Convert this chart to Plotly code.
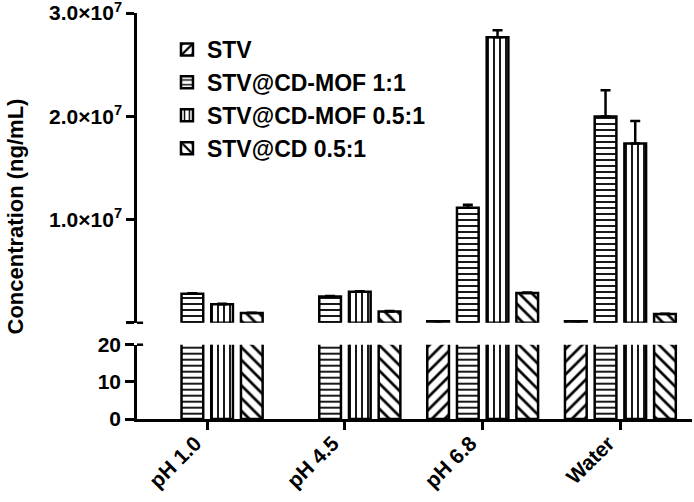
import plotly.graph_objects as go

categories = ["pH 1.0", "pH 4.5", "pH 6.8", "Water"]
series_names = ["STV", "STV@CD-MOF 1:1", "STV@CD-MOF 0.5:1", "STV@CD 0.5:1"]
stv = [None, None, 1.5e5, 1.5e5]
stv_err = [0, 0, 0, 0]
mof_1_1 = [2.8e6, 2.55e6, 1.113e7, 1.997e7]
mof_1_1_err = [5e4, 5e4, 3e5, 2.55e6]
mof_05_1 = [1.8e6, 3.0e6, 2.764e7, 1.735e7]
mof_05_1_err = [5e4, 6e4, 7e5, 2.2e6]
cd_05_1 = [0.94e6, 1.1e6, 2.88e6, 0.84e6]
cd_05_1_err = [3e4, 3e4, 5e4, 3e4]

top_tickvals = [0, 1e7, 2e7, 3e7]
top_ticktext = ["", "1.0×10<sup>7</sup>", "2.0×10<sup>7</sup>", "3.0×10<sup>7</sup>"]
bottom_tickvals = [0, 10, 20]
bottom_ticktext = ["0", "10", "20"]

all_values = [stv, mof_1_1, mof_05_1, cd_05_1]
all_errs = [stv_err, mof_1_1_err, mof_05_1_err, cd_05_1_err]
shapes = ["/", "-", "|", "\\"]
sizes = [9, 6, 6, 9]

FONT = "Arial, Liberation Sans, sans-serif"

fig = go.Figure()
for name, vals, errs, shp, sz in zip(series_names, all_values, all_errs, shapes, sizes):
    marker = dict(
        color="white",
        line=dict(color="black", width=2.5),
        pattern=dict(shape=shp, fgcolor="black", bgcolor="white", size=sz, solidity=0.3),
    )
    # bottom segment
    fig.add_trace(go.Bar(x=categories, y=vals, name=name, marker=marker,
                         xaxis="x", yaxis="y", showlegend=True, hoverinfo="skip"))
    # top segment
    fig.add_trace(go.Bar(x=categories, y=vals, name=name, marker=marker,
                         xaxis="x", yaxis="y2", showlegend=False, hoverinfo="skip",
                         error_y=dict(type="data", array=errs, arrayminus=[0] * len(errs),
                                      symmetric=False, color="black", thickness=2.5, width=5)))

axis_common = dict(showline=True, linecolor="black", linewidth=2.5, ticks="outside",
                   tickwidth=2.5, tickcolor="black", showgrid=False, zeroline=False,
                   automargin=False, ticklabeloverflow="allow",
                   tickfont=dict(family=FONT, size=21, color="black", weight="bold"))

# small caps at the axis break (Prism style)
break_caps = [
    dict(type="line", xref="paper", yref="y2 domain", x0=0, x1=0.011, y0=0, y1=0,
         line=dict(color="black", width=2.5)),
    dict(type="line", xref="paper", yref="y domain", x0=0, x1=0.011, y0=1, y1=1,
         line=dict(color="black", width=2.5)),
]

fig.update_layout(
    template="none",
    width=694, height=502,
    margin=dict(l=137, r=2, t=13, b=83),
    paper_bgcolor="white", plot_bgcolor="white",
    barmode="group", bargap=0.137, bargroupgap=0.27,
    xaxis=dict(range=[-0.51, 3.52], anchor="y", tickangle=-45, ticklen=8,
               ticklabelstandoff=-7, ticklabelshift=-12,
               **axis_common),
    yaxis=dict(domain=[0, 0.183], range=[0, 20], tickvals=bottom_tickvals,
               ticktext=bottom_ticktext, ticklen=9, anchor="x", **axis_common),
    yaxis2=dict(domain=[0.237, 1], range=[0, 3.0e7], tickvals=top_tickvals,
                ticktext=top_ticktext, ticklen=8, anchor="x", **axis_common),
    legend=dict(x=0.054, y=0.963, xanchor="left", yanchor="top",
                font=dict(family=FONT, size=23, color="black", weight="bold"),
                bgcolor="rgba(0,0,0,0)", tracegroupgap=0),
    shapes=break_caps,
    annotations=[dict(text="Concentration (ng/mL)", textangle=-90, xref="paper", yref="paper",
                      x=-0.219, y=0.5, xanchor="center", yanchor="middle", showarrow=False,
                      font=dict(family=FONT, size=22, color="black", weight="bold"))],
)

fig.write_html("out.html", post_script="document.body.style.margin='0px';",
               config={"displayModeBar": False})
